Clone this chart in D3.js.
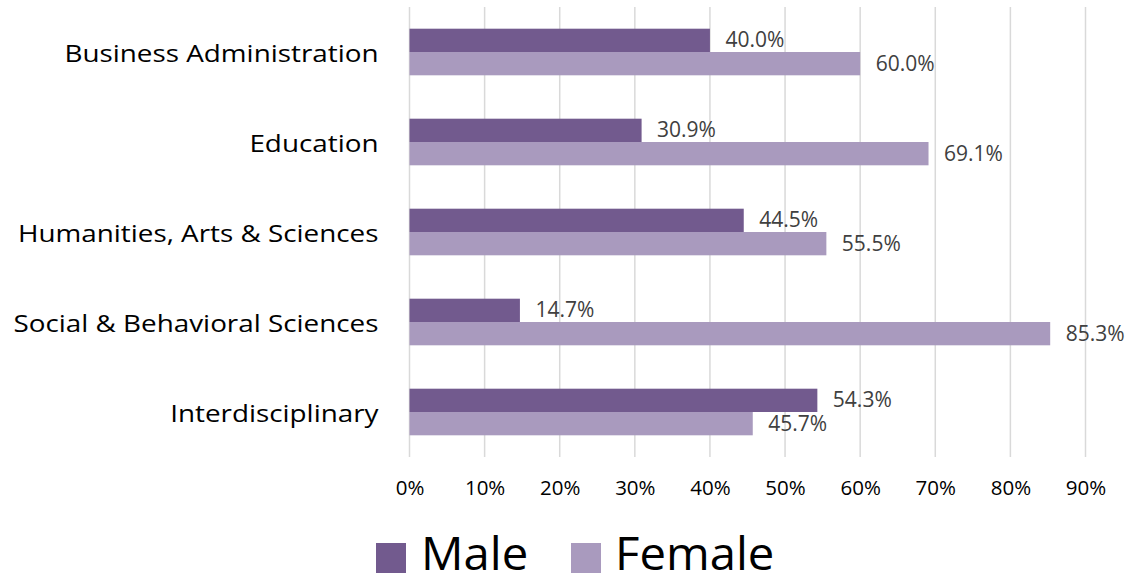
<!DOCTYPE html>
<html><head><meta charset="utf-8">
<script src="https://cdn.jsdelivr.net/npm/d3@7"></script>
<style>body{margin:0;background:#fff}</style>
</head><body>
<svg id="c" width="1128" height="582"></svg>
<script>
const categories = ["Business Administration","Education","Humanities, Arts & Sciences","Social & Behavioral Sciences","Interdisciplinary"];
const series = ["Male","Female"];
const male = [40.0, 30.9, 44.5, 14.7, 54.3];
const female = [60.0, 69.1, 55.5, 85.3, 45.7];
const ticks = [0,10,20,30,40,50,60,70,80,90];
const colors = {Male:"#725A8E", Female:"#A99ABE"};

const font = "'Open Sans', sans-serif";
const svg = d3.select("#c");
const m = {left:409.5, right:1085.5, top:7, bottom:457};

function stretch(sel, k){
  sel.each(function(){
    const len = this.getComputedTextLength();
    d3.select(this).attr("textLength", len*k).attr("lengthAdjust","spacingAndGlyphs");
  });
}

const x = d3.scaleLinear().domain([0,90]).range([m.left, m.right]);
const y = d3.scaleBand().domain(categories).range([m.top, m.bottom]).paddingInner(0.482).paddingOuter(0.241);
const y1 = d3.scaleBand().domain(series).range([0, y.bandwidth()]);

// gridlines
svg.append("g").selectAll("line").data(ticks).join("line")
  .attr("x1", d=>x(d)).attr("x2", d=>x(d)).attr("y1", m.top).attr("y2", m.bottom)
  .attr("stroke","#D9D9D9").attr("stroke-width",1.5);

// x axis labels
const xa = svg.append("g").attr("transform",`translate(0,${m.bottom})`)
  .call(d3.axisBottom(x).tickValues(ticks).tickFormat(d=>d+"%").tickSize(0).tickPadding(0));
xa.select(".domain").remove();
xa.selectAll("text").attr("font-family",font).attr("font-size",20.5).attr("fill","#000")
  .attr("dy",null).attr("y",33).attr("dominant-baseline","middle");

// y axis labels
const ya = svg.append("g").attr("transform",`translate(${m.left},0)`)
  .call(d3.axisLeft(y).tickSize(0).tickPadding(31));
ya.select(".domain").remove();
ya.selectAll("text").attr("font-family",font).attr("font-size",23).attr("fill","#000").attr("dy","0.42em")
  .call(stretch, 1.21);

const rows = categories.map((c,i)=>({cat:c, vals:[{s:"Male",v:male[i]},{s:"Female",v:female[i]}]}));
const g = svg.append("g").selectAll("g").data(rows).join("g")
  .attr("transform", d=>`translate(0,${y(d.cat)})`);
g.selectAll("rect").data(d=>d.vals).join("rect")
  .attr("x", x(0)).attr("y", d=>y1(d.s)).attr("width", d=>x(d.v)-x(0)).attr("height", y1.bandwidth())
  .attr("fill", d=>colors[d.s]);
g.selectAll("text").data(d=>d.vals).join("text")
  .attr("x", d=>x(d.v)+15.5).attr("y", d=>y1(d.s)+y1.bandwidth()/2+1.5)
  .attr("dominant-baseline","middle")
  .attr("font-family",font).attr("font-size",21).attr("fill","#404040")
  .text(d=>d.v.toFixed(1)+"%");

// legend
const leg = [{s:"Male",x:376,tx:421},{s:"Female",x:571,tx:615}];
const lg = svg.append("g").selectAll("g").data(leg).join("g");
lg.append("rect").attr("x",d=>d.x).attr("y",543).attr("width",30).attr("height",30).attr("fill",d=>colors[d.s]);
lg.append("text").attr("x",d=>d.tx).attr("y",557.5).attr("dominant-baseline","middle")
  .attr("font-family",font).attr("font-size",45).attr("fill","#000").text(d=>d.s)
  .call(stretch, 1.05);
</script>
</body></html>
